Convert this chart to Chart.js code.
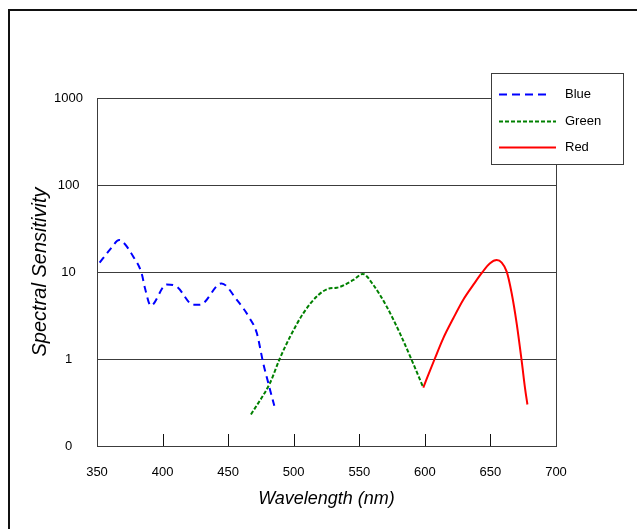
<!DOCTYPE html>
<html><head><meta charset="utf-8">
<script src="https://cdn.jsdelivr.net/npm/chart.js@4/dist/chart.umd.min.js"></script>
<style>html,body{margin:0;padding:0;background:#fff;}#wrap{width:637px;height:529px;}</style>
</head><body><div id="wrap"><canvas id="c" width="637" height="529"></canvas></div>
<script>
// ---- data ----
const blueX  = [352, 360, 367, 370, 377.7, 384, 386.6, 391, 403, 410.8, 423.4, 428.5, 445, 456.5, 466.7, 471.8, 476.8, 480.6, 485.2];
const blueY  = [12.8, 18.2, 23.3, 22, 15, 9.7, 6.5, 4.1, 7.2, 6.8, 4.2, 4.2, 7.4, 4.8, 2.9, 2.0, 0.89, 0.53, 0.29];
const greenX = [467.4, 481.9, 489.5, 497.2, 507.3, 518.8, 527.7, 532.8, 545.5, 552.6, 560.7, 570.9, 581, 590, 598.8];
const greenY = [0.23, 0.53, 1.02, 1.8, 3.35, 5.45, 6.5, 6.6, 8.1, 9.5, 7.1, 4.0, 1.97, 0.97, 0.47];
const redX   = [598.8, 607.7, 614, 621.7, 629.3, 636.9, 643.3, 649.7, 654.8, 658.6, 662.4, 666.2, 670, 673.9, 676.4, 678.2];
const redY   = [0.47, 1.02, 1.73, 2.94, 4.8, 7.1, 9.7, 12.6, 13.7, 12.8, 10.1, 5.7, 2.57, 0.93, 0.46, 0.30];
const seriesNames = ['Blue', 'Green', 'Red'];
const xTicks = [350, 400, 450, 500, 550, 600, 650, 700];
const yTicks = [0.1, 1, 10, 100, 1000];
const yTickLabels = ['0', '1', '10', '100', '1000'];
const xTitle = 'Wavelength (nm)';
const yTitle = 'Spectral Sensitivity';

const FONT = "'Liberation Sans', Arial, Helvetica, sans-serif";
Chart.defaults.font.family = FONT;

function pts(xs, ys) { return xs.map((x, i) => ({x: x, y: ys[i]})); }

const styles = [
  {color: '#0000ff', dash: [7, 5], legendDash: [8, 5], legendLen: 47},
  {color: '#008000', dash: [4, 2], legendDash: [4, 2], legendLen: 57},
  {color: '#ff0000', dash: [], legendDash: [], legendLen: 57}
];
const allX = [blueX, greenX, redX], allY = [blueY, greenY, redY];

const datasets = seriesNames.map((n, i) => ({
  label: n,
  data: pts(allX[i], allY[i]),
  borderColor: styles[i].color,
  borderDash: styles[i].dash,
  borderWidth: 2,
  pointRadius: 0,
  fill: false,
  cubicInterpolationMode: 'monotone'
}));

const GRID = '#3c3c3c';

const framePlugin = {
  id: 'frame',
  beforeDraw(chart) {
    const ctx = chart.ctx;
    ctx.save();
    ctx.fillStyle = '#fff';
    ctx.fillRect(0, 0, chart.width, chart.height);
    ctx.fillStyle = '#111';
    ctx.fillRect(8, 9, chart.width - 8, 2);
    ctx.fillRect(8, 9, 2, chart.height - 9);
    ctx.restore();
  }
};

const innerTicks = {
  id: 'innerTicks',
  afterDatasetsDraw(chart) {
    const ctx = chart.ctx, xs = chart.scales.x, b = chart.chartArea.bottom;
    ctx.save();
    ctx.strokeStyle = '#111';
    ctx.lineWidth = 1;
    xTicks.slice(1, -1).forEach(v => {
      const px = Math.round(xs.getPixelForValue(v)) + 0.5;
      ctx.beginPath(); ctx.moveTo(px, b); ctx.lineTo(px, b - 12); ctx.stroke();
    });
    ctx.restore();
  }
};

const boxLegend = {
  id: 'boxLegend',
  afterDraw(chart) {
    const ctx = chart.ctx;
    const L = 491, T = 73, W = 132, H = 91;
    ctx.save();
    ctx.fillStyle = '#fff';
    ctx.fillRect(L, T, W, H);
    ctx.strokeStyle = GRID;
    ctx.lineWidth = 1;
    ctx.strokeRect(L + 0.5, T + 0.5, W, H);
    const rows = [94, 121, 147];
    chart.data.datasets.forEach((ds, i) => {
      const y = rows[i] + 0.5;
      ctx.strokeStyle = ds.borderColor;
      ctx.lineWidth = 2;
      ctx.setLineDash(styles[i].legendDash);
      ctx.beginPath(); ctx.moveTo(499, y); ctx.lineTo(499 + styles[i].legendLen, y); ctx.stroke();
      ctx.setLineDash([]);
      ctx.fillStyle = '#000';
      ctx.font = '13px ' + FONT;
      ctx.textBaseline = 'middle';
      ctx.textAlign = 'left';
      ctx.fillText(ds.label, 565, rows[i]);
    });
    ctx.restore();
  }
};

new Chart(document.getElementById('c'), {
  type: 'line',
  data: {datasets: datasets},
  plugins: [framePlugin, innerTicks, boxLegend],
  options: {
    responsive: false,
    animation: false,
    devicePixelRatio: 1,
    layout: {padding: {left: 0, top: 98, right: 81, bottom: 0}},
    plugins: {legend: {display: false}, tooltip: {enabled: false}},
    scales: {
      x: {
        type: 'linear', min: 350, max: 700,
        afterBuildTicks: s => { s.ticks = xTicks.map(v => ({value: v})); },
        afterFit: s => { s.height = 83; },
        ticks: {autoSkip: false, maxRotation: 0, padding: 19, color: '#000', font: {size: 13}},
        grid: {drawTicks: false, lineWidth: 1,
               color: c => (c.tick && c.tick.value === 700) ? GRID : 'rgba(0,0,0,0)'},
        border: {display: true, color: GRID, width: 1},
        title: {display: true, text: xTitle, color: '#000',
                font: {size: 18, style: 'italic'}, padding: {top: 0, bottom: 19}}
      },
      y: {
        type: 'logarithmic', min: 0.1, max: 1000,
        afterBuildTicks: s => { s.ticks = yTicks.map(v => ({value: v})); },
        afterFit: s => { s.width = 97; },
        ticks: {autoSkip: false, crossAlign: 'center', padding: 14, color: '#000', font: {size: 13},
                callback: v => yTickLabels[yTicks.indexOf(v)]},
        grid: {drawTicks: false, color: GRID, lineWidth: 1},
        border: {display: true, color: GRID, width: 1},
        title: {display: true, text: yTitle, color: '#000',
                font: {size: 20, style: 'italic'}, padding: {top: 28, bottom: 0}}
      }
    }
  }
});
</script></body></html>
